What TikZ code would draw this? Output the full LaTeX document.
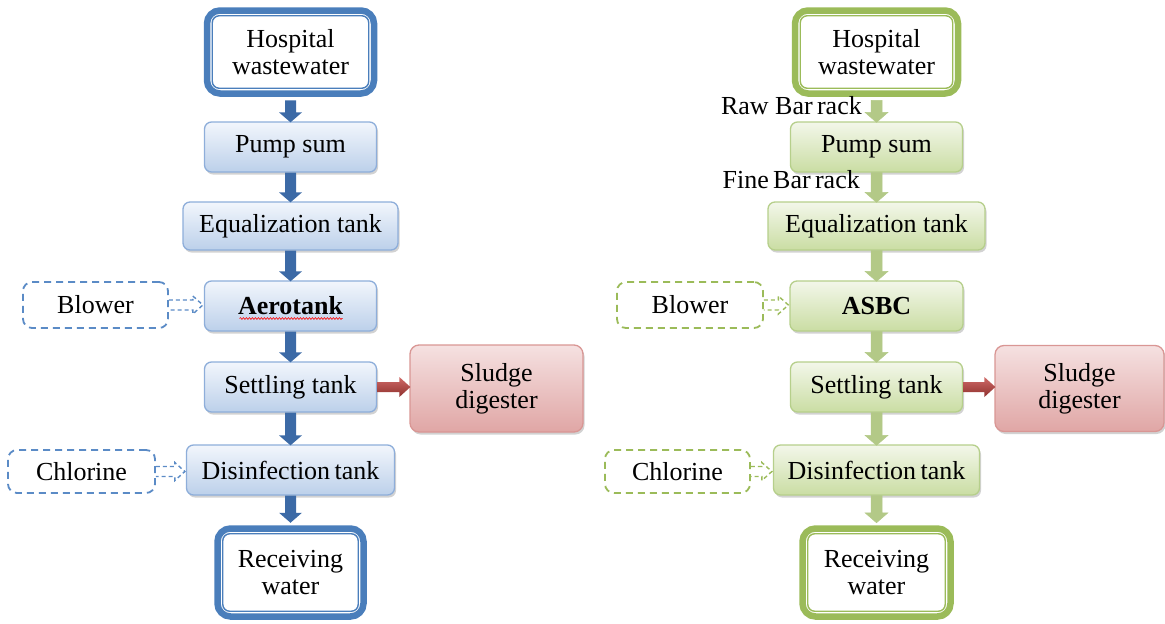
\documentclass[tikz,border=0pt]{standalone}
\usepackage{fontspec}
\setmainfont{Liberation Serif}
\usetikzlibrary{calc,shadows,decorations.pathmorphing}

\definecolor{bdbl}{HTML}{4A7EBB}
\definecolor{bdgr}{HTML}{9BBB59}
\definecolor{blborder}{HTML}{8EAEDA}
\definecolor{bltop}{HTML}{F2F6FC}
\definecolor{blbot}{HTML}{BCD0EA}
\definecolor{grborder}{HTML}{B6CF8B}
\definecolor{grtop}{HTML}{F3F7EA}
\definecolor{grbot}{HTML}{CADDA3}
\definecolor{rdborder}{HTML}{D99694}
\definecolor{rdtop}{HTML}{F5E1E1}
\definecolor{rdbot}{HTML}{E0A6A5}
\definecolor{arbl1}{HTML}{3C6AA6}
\definecolor{arbl2}{HTML}{729BD2}
\definecolor{argr1}{HTML}{B3C987}
\definecolor{argr2}{HTML}{E6EED5}
\definecolor{arrd1}{HTML}{CF6A67}
\definecolor{arrd2}{HTML}{8E2F2D}
\definecolor{dsbl}{HTML}{5B8BC6}
\definecolor{dsgr}{HTML}{9BBB59}

\newcommand\varrowv[5]{% from, to, style, start offset, tip offset
  \path[#3] ($(#1.south)+(-5.5,#4)$) -- ($(#2.north)+(-5.5,-9+#5)$) -- ($(#2.north)+(-11.5,-9+#5)$) -- ($(#2.north)+(0,1+#5)$) -- ($(#2.north)+(11.5,-9+#5)$) -- ($(#2.north)+(5.5,-9+#5)$) -- ($(#1.south)+(5.5,#4)$) -- cycle;}
\newcommand\harrowd[3]{% from, to, colour
  \draw[#3, line width=1.4pt, dash pattern=on 4pt off 3pt] ($(#1.east)+(0,-5)$) -- ($(#2.west |- #1.east)+(-11,-5)$) -- ($(#2.west |- #1.east)+(-11,-9)$) -- ($(#2.west |- #1.east)+(-1,0)$) -- ($(#2.west |- #1.east)+(-11,9)$) -- ($(#2.west |- #1.east)+(-11,5)$) -- ($(#1.east)+(0,5)$);}
\newcommand\harrowr[2]{% from, to
  \path[top color=arrd1, bottom color=arrd2] ($(#1.east)+(0,-5)$) -- ($(#2.west |- #1.east)+(-10,-5)$) -- ($(#2.west |- #1.east)+(-10,-10)$) -- ($(#2.west |- #1.east)+(1,0)$) -- ($(#2.west |- #1.east)+(-10,10)$) -- ($(#2.west |- #1.east)+(-10,5)$) -- ($(#1.east)+(0,5)$) -- cycle;}
\newcommand\innerline[2]{%
  \draw[#2, line width=1.4pt, rounded corners=7pt] ($(#1.north west)+(8.5,8.5)$) rectangle ($(#1.south east)+(-8.5,-8.5)$);}

\begin{document}
\begin{tikzpicture}[x=1pt,y=-1pt,
  font=\fontsize{26}{27}\selectfont,
  every node/.style={inner sep=0pt, align=center, text=black},
  boxshadow/.style={drop shadow={shadow xshift=1.5pt, shadow yshift=-2.5pt, opacity=0.25, fill=black!70}},
  bluebox/.style={rectangle, rounded corners=7pt, draw=blborder, line width=1.3pt, top color=bltop, bottom color=blbot, boxshadow},
  greenbox/.style={rectangle, rounded corners=7pt, draw=grborder, line width=1.3pt, top color=grtop, bottom color=grbot, boxshadow},
  redbox/.style={rectangle, rounded corners=9pt, draw=rdborder, line width=1.3pt, top color=rdtop, bottom color=rdbot, boxshadow},
  bluedouble/.style={rectangle, rounded corners=13pt, draw=bdbl, line width=6.5pt, fill=white},
  greendouble/.style={rectangle, rounded corners=13pt, draw=bdgr, line width=6.5pt, fill=white},
  bluedash/.style={rectangle, rounded corners=9pt, draw=dsbl, line width=1.8pt, dash pattern=on 7pt off 5pt, fill=white},
  greendash/.style={rectangle, rounded corners=9pt, draw=dsgr, line width=1.8pt, dash pattern=on 7pt off 5pt, fill=white},
  bluearrow/.style={left color=arbl1, middle color=arbl2, right color=arbl1},
  greenarrow/.style={left color=argr1, middle color=argr2, right color=argr1, draw=argr1, line width=0.5pt}
]
\useasboundingbox (0,0) rectangle (1165,624);

% ---------------- left chart ----------------
\node[bluedouble, minimum width=167pt, minimum height=83pt] (hw1) at (290.5,52) {Hospital\\wastewater};
\innerline{hw1}{bdbl}
\node[bluebox, minimum width=172pt, minimum height=50pt] (pump1) at (290.5,147) {Pump sum};
\node[bluebox, minimum width=215pt, minimum height=48pt] (eq1) at (290.5,226) {Equalization tank};
\node[bluebox, minimum width=172pt, minimum height=50pt] (aero) at (290.5,306) {\textbf{Aerotank}};
\node[bluebox, minimum width=172pt, minimum height=50pt] (set1) at (290.5,387) {Settling tank};
\node[bluebox, minimum width=208pt, minimum height=50pt] (dis1) at (290.5,470) {Disinfection\,tank};
\node[bluedouble, minimum width=146pt, minimum height=88pt] (rw1) at (290.5,572.5) {Receiving\\water};
\innerline{rw1}{bdbl}
\node[bluedash, minimum width=145pt, minimum height=46pt] (bl1) at (95.5,305) {Blower};
\node[bluedash, minimum width=147pt, minimum height=43pt] (cl1) at (81.5,471.5) {Chlorine};
\node[redbox, minimum width=173pt, minimum height=87pt] (sd1) at (496.5,388.5) {Sludge\\digester};

\draw[red, line width=0.6pt, decorate, decoration={snake, amplitude=0.9pt, segment length=3pt}] ($(aero.center)+(-51,12.5)$) -- ($(aero.center)+(52,12.5)$);

\varrowv{hw1}{pump1}{bluearrow}{3.5}{0}
\varrowv{pump1}{eq1}{bluearrow}{0}{0}
\varrowv{eq1}{aero}{bluearrow}{0}{0}
\varrowv{aero}{set1}{bluearrow}{0}{0}
\varrowv{set1}{dis1}{bluearrow}{0}{0}
\varrowv{dis1}{rw1}{bluearrow}{0}{-3.5}
\harrowd{bl1}{aero}{dsbl}
\harrowd{cl1}{dis1}{dsbl}
\harrowr{set1}{sd1}

% ---------------- right chart ----------------
\node[greendouble, minimum width=163pt, minimum height=83pt] (hw2) at (876.5,52) {Hospital\\wastewater};
\innerline{hw2}{bdgr}
\node[greenbox, minimum width=172pt, minimum height=50pt] (pump2) at (876.5,147) {Pump sum};
\node[greenbox, minimum width=217pt, minimum height=48pt] (eq2) at (876.5,226) {Equalization tank};
\node[greenbox, minimum width=173pt, minimum height=50pt] (asbc) at (876.5,306) {\textbf{ASBC}};
\node[greenbox, minimum width=172pt, minimum height=50pt] (set2) at (876.5,387) {Settling tank};
\node[greenbox, minimum width=206pt, minimum height=50pt] (dis2) at (876.5,470) {Disinfection\,tank};
\node[greendouble, minimum width=148pt, minimum height=88pt] (rw2) at (876.5,572.5) {Receiving\\water};
\innerline{rw2}{bdgr}
\node[greendash, minimum width=146pt, minimum height=46pt] (bl2) at (690,305) {Blower};
\node[greendash, minimum width=145pt, minimum height=43pt] (cl2) at (677.5,471.5) {Chlorine};
\node[redbox, minimum width=169pt, minimum height=86pt] (sd2) at (1079.5,388.5) {Sludge\\digester};

\varrowv{hw2}{pump2}{greenarrow}{3.5}{0}
\varrowv{pump2}{eq2}{greenarrow}{0}{0}
\varrowv{eq2}{asbc}{greenarrow}{0}{0}
\varrowv{asbc}{set2}{greenarrow}{0}{0}
\varrowv{set2}{dis2}{greenarrow}{0}{0}
\varrowv{dis2}{rw2}{greenarrow}{0}{-3.5}
\harrowd{bl2}{asbc}{dsgr}
\harrowd{cl2}{dis2}{dsgr}
\harrowr{set2}{sd2}

\node[anchor=base east] (raw) at (862,114) {Raw Bar\,rack};
\node[anchor=base east] (fine) at (860,188) {Fine\,Bar\,rack};
\end{tikzpicture}
\end{document}
